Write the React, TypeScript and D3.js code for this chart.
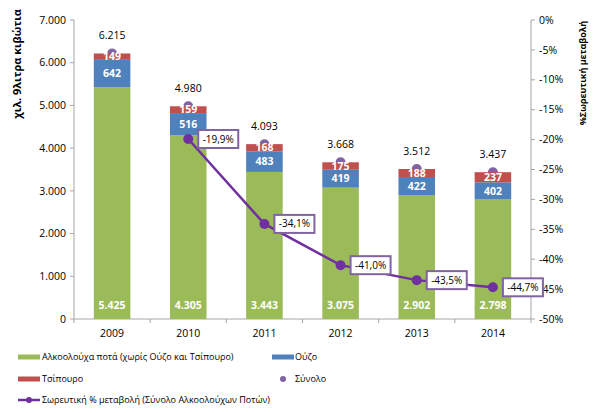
import React, { useEffect, useRef } from "react";
import * as d3 from "d3";

const years = ["2009", "2010", "2011", "2012", "2013", "2014"];
const alcohol = [5425, 4305, 3443, 3075, 2902, 2798];
const ouzo = [642, 516, 483, 419, 422, 402];
const tsipouro = [149, 159, 168, 175, 188, 237];
const totals = [6215, 4980, 4093, 3668, 3512, 3437];
const cumChange: (number | null)[] = [null, -19.9, -34.1, -41.0, -43.5, -44.7];
const leftTicks = [0, 1000, 2000, 3000, 4000, 5000, 6000, 7000];
const rightTicks = [0, -5, -10, -15, -20, -25, -30, -35, -40, -45, -50];

const FONT = "'Open Sans', 'Noto Sans', sans-serif";
const fmt = (v: number) => d3.format(",")(v).replace(/,/g, ".");

export default function App() {
  const ref = useRef<SVGSVGElement>(null);
  useEffect(() => {
    const svg = d3.select(ref.current);
    svg.selectAll("*").remove();
    const left = 74, right = 531, top = 20, bottom = 319;
    const x = d3.scaleBand().domain(years).range([left, right]).paddingInner(0.52).paddingOuter(0.26);
    const y = d3.scaleLinear().domain([0, 7000]).range([bottom, top]);
    const y2 = d3.scaleLinear().domain([-50, 0]).range([bottom, top]);
    const axisColor = "#A6A6A6";

    // left axis
    const gl = svg.append("g");
    gl.append("line").attr("x1", left).attr("x2", left).attr("y1", top).attr("y2", bottom).attr("stroke", axisColor);
    leftTicks.forEach((t) => {
      gl.append("line").attr("x1", left - 4).attr("x2", left).attr("y1", y(t)).attr("y2", y(t)).attr("stroke", axisColor);
      gl.append("text").attr("x", left - 8).attr("y", y(t)).attr("dy", "0.35em").attr("text-anchor", "end")
        .attr("font-size", 10.5).attr("font-family", FONT).attr("fill", "#000").text(fmt(t));
    });
    // right axis
    rightTicks.forEach((t) => {
      svg.append("line").attr("x1", right).attr("x2", right + 4).attr("y1", y2(t)).attr("y2", y2(t)).attr("stroke", axisColor);
      svg.append("text").attr("x", right + 8).attr("y", y2(t)).attr("dy", "0.35em").attr("text-anchor", "start")
        .attr("font-size", 10.5).attr("font-family", FONT).attr("fill", "#000").text(`${t}%`);
    });
    svg.append("line").attr("x1", right).attr("x2", right).attr("y1", top).attr("y2", bottom).attr("stroke", axisColor);
    // bottom axis
    svg.append("line").attr("x1", left).attr("x2", right).attr("y1", bottom).attr("y2", bottom).attr("stroke", axisColor);
    for (let i = 0; i <= years.length; i++) {
      const xx = left + i * ((right - left) / years.length);
      svg.append("line").attr("x1", xx).attr("x2", xx).attr("y1", bottom).attr("y2", bottom + 4).attr("stroke", axisColor);
    }
    years.forEach((yr) => {
      svg.append("text").attr("x", x(yr)! + x.bandwidth() / 2).attr("y", bottom + 14).attr("dy", "0.35em")
        .attr("text-anchor", "middle").attr("font-size", 10.5).attr("font-family", FONT).text(yr);
    });

    // axis titles
    svg.append("text").attr("transform", `translate(17,${64}) rotate(-90)`).attr("text-anchor", "middle")
      .attr("dy", "0.35em").attr("font-size", 11).attr("font-weight", "bold").attr("font-family", FONT).text("χιλ. 9λιτρα κιβώτια");
    svg.append("text").attr("transform", `translate(583,${73}) rotate(-90)`).attr("text-anchor", "middle")
      .attr("dy", "0.35em").attr("font-size", 9).attr("font-weight", "bold").attr("font-family", FONT).text("%Σωρευτική  μεταβολή");

    // total markers (behind bars)
    years.forEach((yr, i) => {
      svg.append("circle").attr("cx", x(yr)! + x.bandwidth() / 2).attr("cy", y(totals[i])).attr("r", 5).attr("fill", "#8064A2");
    });

    // bars
    years.forEach((yr, i) => {
      const bx = x(yr)!, bw = x.bandwidth();
      const a = alcohol[i], o = ouzo[i], t = tsipouro[i];
      svg.append("rect").attr("x", bx).attr("width", bw).attr("y", y(a)).attr("height", y(0) - y(a)).attr("fill", "#9BBB59");
      svg.append("rect").attr("x", bx).attr("width", bw).attr("y", y(a + o)).attr("height", y(a) - y(a + o)).attr("fill", "#4F81BD");
      svg.append("rect").attr("x", bx).attr("width", bw).attr("y", y(a + o + t)).attr("height", y(a + o) - y(a + o + t)).attr("fill", "#C0504D");
      const cx = bx + bw / 2;
      const lbl = (yy: number, txt: string) =>
        svg.append("text").attr("x", cx).attr("y", yy).attr("dy", "0.35em").attr("text-anchor", "middle")
          .attr("font-size", 10.5).attr("font-weight", "bold").attr("font-family", FONT).attr("fill", "#fff").text(txt);
      lbl(bottom - 14, fmt(a));
      lbl((y(a) + y(a + o)) / 2, fmt(o));
      lbl((y(a + o) + y(a + o + t)) / 2, fmt(t));
      svg.append("text").attr("x", cx).attr("y", y(totals[i]) - 18).attr("dy", "0.35em").attr("text-anchor", "middle")
        .attr("font-size", 10.5).attr("font-family", FONT).attr("fill", "#000").text(fmt(totals[i]));
    });

    // cumulative change line
    const pts = years.map((yr, i) => ({ x: x(yr)! + x.bandwidth() / 2, v: cumChange[i] })).filter((p) => p.v !== null) as { x: number; v: number }[];
    const line = d3.line<{ x: number; v: number }>().x((d) => d.x).y((d) => y2(d.v));
    svg.append("path").attr("d", line(pts)).attr("fill", "none").attr("stroke", "#7030A0").attr("stroke-width", 2.5);
    pts.forEach((p) => {
      svg.append("circle").attr("cx", p.x).attr("cy", y2(p.v)).attr("r", 5).attr("fill", "#7030A0");
    });
    pts.forEach((p) => {
      const bx = p.x + 10, by = y2(p.v) - 9;
      svg.append("rect").attr("x", bx).attr("y", by).attr("width", 40).attr("height", 18).attr("fill", "#fff")
        .attr("stroke", "#8064A2").attr("stroke-width", 2);
      svg.append("text").attr("x", bx + 20).attr("y", by + 9).attr("dy", "0.35em").attr("text-anchor", "middle")
        .attr("font-size", 10).attr("font-family", FONT).text(`${p.v.toFixed(1).replace(".", ",")}%`);
    });

    // legend
    const lg = svg.append("g").attr("font-family", FONT).attr("font-size", 9);
    const sw = (xx: number, yy: number, c: string) => lg.append("rect").attr("x", xx).attr("y", yy - 2.5).attr("width", 22).attr("height", 5).attr("fill", c);
    const lt = (xx: number, yy: number, t: string) => lg.append("text").attr("x", xx).attr("y", yy).attr("dy", "0.35em").text(t);
    sw(18, 357, "#9BBB59"); lt(42, 357, "Αλκοολούχα ποτά (χωρίς Ούζο και Τσίπουρο)");
    sw(272, 357, "#4F81BD"); lt(295, 357, "Ούζο");
    sw(18, 379, "#C0504D"); lt(42, 379, "Τσίπουρο");
    lg.append("circle").attr("cx", 283).attr("cy", 379).attr("r", 3).attr("fill", "#8064A2"); lt(295, 379, "Σύνολο");
    lg.append("line").attr("x1", 18).attr("x2", 40).attr("y1", 400).attr("y2", 400).attr("stroke", "#7030A0").attr("stroke-width", 2.5);
    lg.append("circle").attr("cx", 29).attr("cy", 400).attr("r", 3).attr("fill", "#7030A0");
    lt(42, 400, "Σωρευτική % μεταβολή (Σύνολο Αλκοολούχων Ποτών)");
  }, []);
  return (
    <svg ref={ref} width={613} height={413} style={{ position: "absolute", left: 0, top: 0, background: "#fff" }} />
  );
}
